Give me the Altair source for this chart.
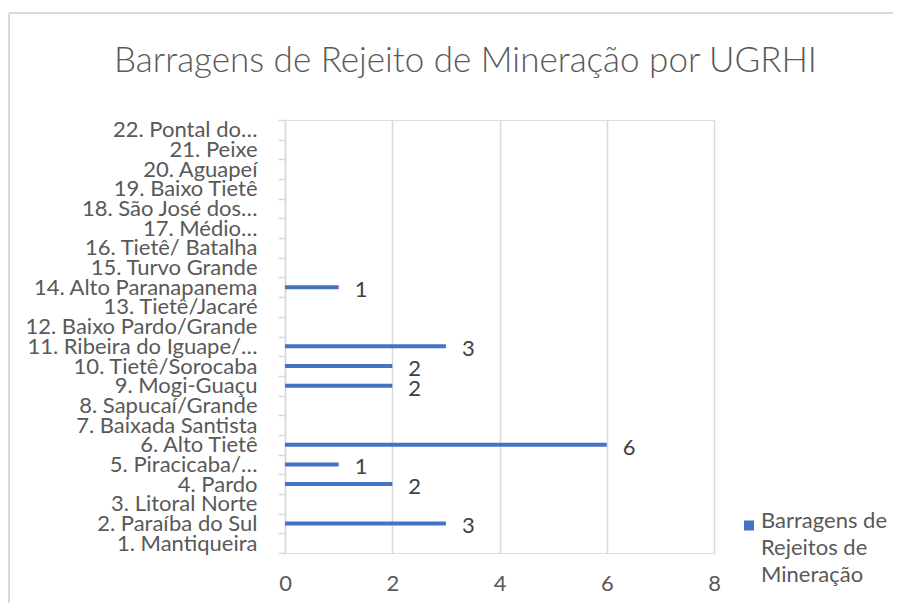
import altair as alt
import pandas as pd

# ---- data ----
categories = [
    "1. Mantiqueira", "2. Paraíba do Sul", "3. Litoral Norte", "4. Pardo",
    "5.  Piracicaba/…", "6. Alto Tietê", "7.  Baixada Santista",
    "8. Sapucaí/Grande", "9. Mogi-Guaçu", "10. Tietê/Sorocaba",
    "11. Ribeira do Iguape/…", "12. Baixo Pardo/Grande", "13. Tietê/Jacaré",
    "14. Alto Paranapanema", "15. Turvo Grande", "16. Tietê/ Batalha",
    "17. Médio…", "18. São José dos…", "19. Baixo Tietê", "20. Aguapeí",
    "21.  Peixe", "22. Pontal do…",
]
values = [0, 3, 0, 2, 1, 6, 0, 0, 2, 2, 3, 0, 0, 1, 0, 0, 0, 0, 0, 0, 0, 0]
series_name = "Barragens de Rejeitos de Mineração"
legend_lines = ["Barragens de", "Rejeitos de", "Mineração"]
x_ticks = [0, 2, 4, 6, 8]
title_text = "Barragens de Rejeito de Mineração por UGRHI"

FONT = "Lato"
BAR = "#4472C4"
GRID = "#d9d9d9"
LABEL = "#595959"

df = pd.DataFrame({"ugrhi": categories, "valor": values, "serie": series_name})
order = list(reversed(categories))

W, H = 429, 433
PAD = {"left": 277, "top": 112, "right": 179, "bottom": 50}

y_enc = alt.Y(
    "ugrhi:N", sort=order,
    scale=alt.Scale(paddingInner=0, paddingOuter=0),
    axis=alt.Axis(
        title=None, grid=False, domainColor=GRID, domainWidth=1.5,
        tickColor=GRID, tickWidth=1.5, tickSize=7, tickBand="extent",
        labelFont=FONT, labelFontSize=22, labelColor=LABEL, labelPadding=21,
        labelLimit=300,
    ),
)
x_enc = alt.X(
    "valor:Q",
    scale=alt.Scale(domain=[0, 8], nice=False),
    axis=alt.Axis(
        title=None, values=x_ticks, grid=True, gridColor=GRID, gridWidth=1.5,
        domain=False, ticks=False, labelFont=FONT, labelFontSize=22,
        labelColor=LABEL, labelPadding=20, labelFlush=False,
    ),
)

label_expr = "[" + ", ".join("'" + s + "'" for s in legend_lines) + "]"

bars = alt.Chart(df).mark_bar(size=4).encode(
    x=x_enc, y=y_enc,
    color=alt.Color(
        "serie:N", scale=alt.Scale(range=[BAR]),
        legend=alt.Legend(
            title=None, orient="none", legendX=453, legendY=397,
            labelExpr=label_expr, labelFont=FONT, labelFontSize=22,
            labelColor=LABEL, labelLimit=300, labelBaseline="alphabetic",
            labelOffset=1,
            symbolType="M-1,-1.5H1V0.5H-1Z", symbolSize=100, symbolStrokeWidth=0,
            padding=0,
        ),
    ),
)

texts = alt.Chart(df).transform_filter("datum.valor > 0").mark_text(
    align="left", baseline="middle", dx=16, dy=3, font=FONT, fontSize=22,
    color="#404040",
).encode(x="valor:Q", y=alt.Y("ugrhi:N", sort=order), text="valor:Q")

border_df = pd.DataFrame({"k": [0]})
border_top = alt.Chart(border_df).mark_rule(color=GRID, strokeWidth=2).encode(
    x=alt.value(-276), x2=alt.value(W + PAD["right"]), y=alt.value(-107)
)
border_left = alt.Chart(border_df).mark_rule(color=GRID, strokeWidth=2).encode(
    x=alt.value(-276), y=alt.value(-107), y2=alt.value(H + PAD["bottom"])
)

chart = alt.layer(bars, texts, border_top, border_left).properties(
    width=W, height=H,
    title=alt.TitleParams(
        title_text, font=FONT, fontSize=35, fontWeight=300, color=LABEL,
        anchor="middle", frame="group", dx=-34, dy=67, offset=0,
    ),
    autosize=alt.AutoSizeParams(type="none"),
    padding=PAD,
).configure_view(stroke=None).configure(
    background="white",
    style={"guide-label": {"lineHeight": 27}},
)

chart.save("out.html", embed_options={"renderer": "svg", "actions": False})
